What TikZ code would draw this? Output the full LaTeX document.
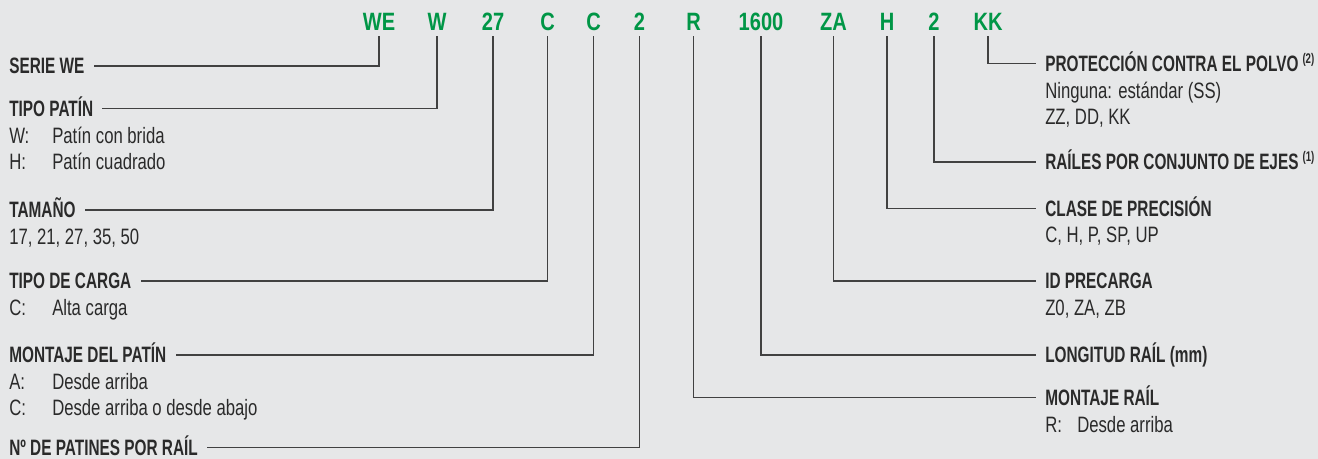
\documentclass[tikz,border=0pt]{standalone}
\usepackage{fontspec}
\setmainfont{Liberation Sans}[FakeStretch=0.75]
\newfontfamily\headfont{Liberation Sans Bold}[FakeStretch=0.69]
\newfontfamily\codefont{Liberation Sans Bold}[FakeStretch=0.8]
\usepackage{xcolor}
\usepackage{tikz}
\usetikzlibrary{positioning,calc}

\definecolor{paper}{RGB}{230,231,232}
\definecolor{codegreen}{RGB}{0,150,70}
\definecolor{ink}{RGB}{42,42,42}
\definecolor{leadgray}{RGB}{65,65,65}
\newcommand{\fnref}[1]{\hspace{3pt}\raisebox{6pt}{\fontsize{10.5}{10.5}\selectfont(#1)}}
\newcommand{\opt}[3][32.25pt]{\makebox[#1][l]{#2}#3}

\begin{document}
\begin{tikzpicture}[x=0.75pt,y=-0.75pt,
  code/.style={font=\codefont\fontsize{18.8}{18.8}\selectfont, text=codegreen, inner sep=0pt, text depth=3.75pt, anchor=base},
  head/.style={font=\headfont\fontsize{16.7}{16.7}\selectfont, text=ink, inner ysep=0pt, inner xsep=6.75pt, text height=12pt, text depth=0pt, anchor=west},
  desc/.style={font=\fontsize{16.7}{16.7}\selectfont, text=ink, inner sep=0pt, text height=12pt, text depth=0pt, anchor=west},
  lead/.style={draw=leadgray, line width=0.9pt}]
\fill[paper] (0,0) rectangle (1318,459);
\useasboundingbox (0,0) rectangle (1318,459);

% Designation code
\node[code] (cWE) at (379,31) {WE};
\node[code] (cW) at (437,31) {W};
\node[code] (cSize) at (493,31) {27};
\node[code] (cLoad) at (547.5,31) {C};
\node[code] (cMount) at (593.5,31) {C};
\node[code] (cBlocks) at (639.5,31) {2};
\node[code] (cRail) at (693.5,31) {R};
\node[code] (cLength) at (761,31) {1600};
\node[code] (cPre) at (833.5,31) {ZA};
\node[code] (cClass) at (887,31) {H};
\node[code] (cAxes) at (934,31) {2};
\node[code] (cDust) at (988,31) {KK};

% Left side
\node[head] (serie) at (0,66) {SERIE WE};
\node[head] (tipo) at (0,108.5) {TIPO PATÍN};
\node[desc] (tipoW) at (9,135.5) {\opt{W:}{Patín con brida}};
\node[desc] (tipoH) at (9,162) {\opt{H:}{Patín cuadrado}};
\node[head] (size) at (0,210) {TAMAÑO};
\node[desc] (sizes) at (9,237) {17, 21, 27, 35, 50};
\node[head] (load) at (0,281) {TIPO DE CARGA};
\node[desc] (loadC) at (9,308) {\opt{C:}{Alta carga}};
\node[head] (mount) at (0,355) {MONTAJE DEL PATÍN};
\node[desc] (mountA) at (9,381.5) {\opt{A:}{Desde arriba}};
\node[desc] (mountC) at (9,408) {\opt{C:}{Desde arriba o desde abajo}};
\node[head] (blocks) at (0,447.5) {Nº DE PATINES POR RAÍL};

% Right side
\node[head] (dust) at (1036,63.5) {PROTECCIÓN CONTRA EL POLVO\fnref{2}};
\node[desc] (dust1) at (1045,90.5) {Ninguna: estándar (SS)};
\node[desc] (dust2) at (1045,117) {ZZ, DD, KK};
\node[head] (axes) at (1036,162) {RAÍLES POR CONJUNTO DE EJES\fnref{1}};
\node[head] (class) at (1036,208.5) {CLASE DE PRECISIÓN};
\node[desc] (classes) at (1045,235) {C, H, P, SP, UP};
\node[head] (pre) at (1036,281) {ID PRECARGA};
\node[desc] (pres) at (1045,308) {Z0, ZA, ZB};
\node[head] (length) at (1036,355) {LONGITUD RAÍL {\mdseries(mm)}};
\node[head] (rail) at (1036,397.5) {MONTAJE RAÍL};
\node[desc] (railR) at (1045,424.5) {\opt[24pt]{R:}{Desde arriba}};

% Leader lines
\draw[lead] (cWE.south) |- (serie.east);
\draw[lead] (cW.south) |- (tipo.east);
\draw[lead] (cSize.south) |- (size.east);
\draw[lead] (cLoad.south) |- (load.east);
\draw[lead] (cMount.south) |- (mount.east);
\draw[lead] (cBlocks.south) |- (blocks.east);
\draw[lead] (cRail.south) |- (rail.west);
\draw[lead] (cLength.south) |- (length.west);
\draw[lead] (cPre.south) |- (pre.west);
\draw[lead] (cClass.south) |- (class.west);
\draw[lead] (cAxes.south) |- (axes.west);
\draw[lead] (cDust.south) |- (dust.west);
\end{tikzpicture}
\end{document}
